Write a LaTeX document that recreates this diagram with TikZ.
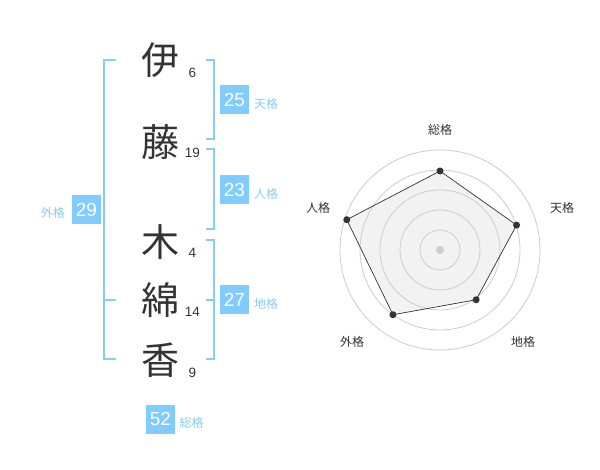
\documentclass[tikz,border=0pt]{standalone}
\usepackage{fontspec}
\setmainfont{Liberation Sans}
\newfontfamily\cjk{Noto Sans CJK JP}
\definecolor{kan}{HTML}{333333}
\definecolor{brk}{HTML}{88CCF8}
\definecolor{boxc}{HTML}{80CCFF}
\definecolor{lbl}{HTML}{88CCF0}
\definecolor{ring}{HTML}{CCCCCC}
\definecolor{polyfill}{HTML}{F2F2F2}
\tikzset{
  kanji/.style={font=\cjk\fontsize{38}{38}\selectfont, text=kan, inner sep=0pt},
  strokes/.style={font=\fontsize{13.5}{14}\selectfont, text=kan, inner sep=0pt},
  valbox/.style={fill=boxc, text=white, font=\fontsize{19}{19}\selectfont, minimum width=29pt, minimum height=29pt, inner sep=0pt},
  kakulbl/.style={font=\cjk\fontsize{12}{12}\selectfont, text=lbl, inner sep=0pt},
  radlbl/.style={font=\cjk\fontsize{12}{12}\selectfont, text=kan, inner sep=0pt},
  bracket/.style={draw=brk, line width=2pt},
  ringline/.style={draw=ring, line width=0.8pt},
  dot/.style={circle, fill=kan, inner sep=0pt, minimum size=7pt},
}
\begin{document}
\begin{tikzpicture}[x=1pt,y=-1pt]
\useasboundingbox[fill=white] (0,0) rectangle (600,470);

% kanji
\node[kanji] (k1) at (160,60) {伊};
\node[kanji] (k2) at (160,142) {藤};
\node[kanji] (k3) at (160,242) {木};
\node[kanji] (k4) at (160,300) {綿};
\node[kanji] (k5) at (160,360) {香};
% stroke counts
\node[strokes] (s1) at (192.5,73) {6};
\node[strokes] (s2) at (192.5,153) {19};
\node[strokes] (s3) at (192.5,253) {4};
\node[strokes] (s4) at (192.5,312) {14};
\node[strokes] (s5) at (192.5,373) {9};

% brackets
\draw[bracket] (116,60) -- (104,60) -- (104,359) -- (116,359);
\draw[bracket] (104,300) -- (116,300);
\draw[bracket] (206,60) -- (214,60) -- (214,139) -- (206,139);
\draw[bracket] (206,149) -- (214,149) -- (214,229) -- (206,229);
\draw[bracket] (206,240) -- (214,240) -- (214,359) -- (206,359);
\draw[bracket] (206,300) -- (214,300);

% value boxes
\node[valbox] (ten) at (234.5,100) {25};
\node[kakulbl, anchor=west] (tenl) at (254,104) {天格};
\node[valbox] (jin) at (234.5,190) {23};
\node[kakulbl, anchor=west] (jinl) at (254,194) {人格};
\node[valbox] (chi) at (234.5,300) {27};
\node[kakulbl, anchor=west] (chil) at (254,304) {地格};
\node[valbox] (gai) at (86.5,210) {29};
\node[kakulbl, anchor=east] (gail) at (65,213) {外格};
\node[valbox] (sou) at (160.5,419) {52};
\node[kakulbl, anchor=west] (soul) at (179.5,423) {総格};

% radar chart
\begin{scope}[shift={(440,250)}, yscale=-1]
  \coordinate (pS) at (90:79);
  \coordinate (pT) at (18:80.5);
  \coordinate (pC) at (-54:61.5);
  \coordinate (pG) at (-126:80);
  \coordinate (pJ) at (162:98);
  \fill[polyfill] (pS) -- (pT) -- (pC) -- (pG) -- (pJ) -- cycle;
  \foreach \r in {20,40,60,80,100} \draw[ringline] (0,0) circle[radius=\r];
  \draw[draw=kan, line width=0.7pt] (pS) -- (pT) -- (pC) -- (pG) -- (pJ) -- cycle;
  \foreach \p in {pS,pT,pC,pG,pJ} \node[dot] at (\p) {};
  \node[circle, fill=ring, inner sep=0pt, minimum size=8pt] (ctr) at (0,0) {};
\end{scope}
\node[radlbl] (lS) at (440,130) {総格};
\node[radlbl] (lT) at (562,208) {天格};
\node[radlbl] (lC) at (523,342) {地格};
\node[radlbl] (lG) at (352,342) {外格};
\node[radlbl] (lJ) at (318,208) {人格};
\end{tikzpicture}
\end{document}
